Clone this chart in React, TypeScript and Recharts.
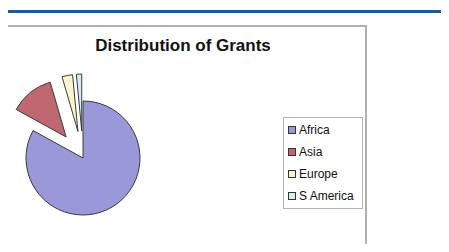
import React from 'react';
import { PieChart, Pie, Cell, Sector, Legend } from 'recharts';

const regions = ['Africa', 'Asia', 'Europe', 'S America'];
const shares = [83, 12.5, 3, 1.5];
const exploded = [false, true, true, true];
const colors = ['#9a98d8', '#c0686f', '#f9f5cf', '#d2eff6'];

const data = regions.map((name, i) => ({ name, value: shares[i], exploded: exploded[i] }));

const RAD = Math.PI / 180;

// pushes the small slices out along their mid angle, like the Excel "exploded" pie
function SliceShape(props: any) {
  const { cx, cy, midAngle, payload } = props;
  const off = payload && payload.exploded ? 27 : 0;
  const dx = Math.cos(-midAngle * RAD) * off;
  const dy = Math.sin(-midAngle * RAD) * off;
  return <Sector {...props} cx={cx + dx} cy={cy + dy} />;
}

function LegendBox({ payload }: any) {
  return (
    <div
      style={{
        width: 74,
        border: '1px solid #b4b4b4',
        padding: '1px 0 1px 4px',
        background: '#fff',
        fontFamily: 'Liberation Sans, Arial, sans-serif',
        fontSize: 12,
        color: '#111',
        boxSizing: 'content-box',
      }}
    >
      {(payload || []).map((p: any, i: number) => (
        <div key={i} style={{ display: 'flex', alignItems: 'center', height: 22, whiteSpace: 'nowrap' }}>
          <span
            style={{
              display: 'inline-block',
              width: 6,
              height: 6,
              background: colors[i],
              border: '1px solid #333',
              marginRight: 3,
            }}
          />
          {regions[i]}
        </div>
      ))}
    </div>
  );
}

export default function App() {
  return (
    <div style={{ position: 'relative', width: 449, height: 252, margin: -8, background: '#fff', overflow: 'hidden' }}>
      <div style={{ position: 'absolute', left: 0, top: 10, width: 449, height: 3, background: '#1c5a98' }} />
      <div style={{ position: 'absolute', left: 0, top: 10, width: 3, height: 242, background: '#1c5a98' }} />
      <div
        style={{
          position: 'absolute',
          left: 4,
          top: 25,
          width: 361,
          height: 240,
          borderTop: '2px solid #b0b0b0',
          borderRight: '2px solid #b0b0b0',
        }}
      />
      <div
        style={{
          position: 'absolute',
          left: 4,
          top: 36,
          width: 358,
          textAlign: 'center',
          fontFamily: 'Liberation Sans, Arial, sans-serif',
          fontWeight: 'bold',
          fontSize: 17,
          color: '#111',
        }}
      >
        Distribution of Grants
      </div>
      <div style={{ position: 'absolute', left: 4, top: 26 }}>
        <PieChart width={360} height={224} margin={{ top: 0, right: 0, bottom: 0, left: 0 }}>
          <Pie
            data={data}
            dataKey="value"
            nameKey="name"
            cx={79}
            cy={132}
            outerRadius={57}
            startAngle={90}
            endAngle={-270}
            stroke="#3a3a3a"
            strokeWidth={1}
            shape={SliceShape}
            isAnimationActive={false}
          >
            {data.map((d, i) => (
              <Cell key={d.name} fill={colors[i]} />
            ))}
          </Pie>
          <Legend
            layout="vertical"
            align="right"
            verticalAlign="middle"
            content={<LegendBox />}
            wrapperStyle={{ right: 'auto', left: 279, top: 91 }}
          />
        </PieChart>
      </div>
    </div>
  );
}
